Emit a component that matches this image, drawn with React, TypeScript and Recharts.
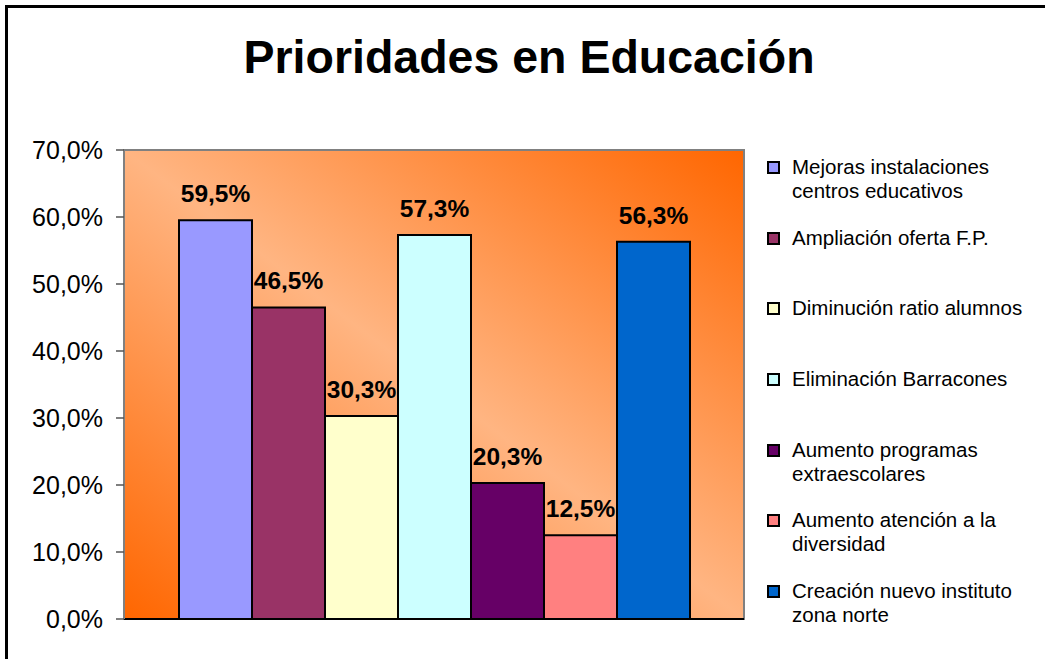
import { Bar, BarChart, CartesianGrid, LabelList, ReferenceArea, XAxis, YAxis } from 'recharts';

const categories = ['Prioridades'];

const seriesNames = [
  'Mejoras instalaciones\ncentros educativos',
  'Ampliación oferta F.P.',
  'Diminución ratio alumnos',
  'Eliminación Barracones',
  'Aumento programas\nextraescolares',
  'Aumento atención a la\ndiversidad',
  'Creación nuevo instituto\nzona norte',
];

const seriesValues = [0.595, 0.465, 0.303, 0.573, 0.203, 0.125, 0.563];

const seriesColors = ['#9999FF', '#993366', '#FFFFCC', '#CCFFFF', '#660066', '#FF8080', '#0066CC'];

const yTicks = [0, 0.1, 0.2, 0.3, 0.4, 0.5, 0.6, 0.7];

const chartTitle = 'Prioridades en Educación';

const font = 'Arial, "Liberation Sans", sans-serif';

const chartData = categories.map((name, ci) => {
  const row: Record<string, string | number> = { name };
  seriesValues.forEach((v, i) => {
    row[`s${i}`] = ci === 0 ? v : 0;
  });
  return row;
});

function formatPct(value: number | string): string {
  return (Number(value) * 100).toFixed(1).replace('.', ',') + '%';
}

function ChartLegend() {
  return (
    <div style={{ position: 'absolute', left: 767, top: 155, fontFamily: font, fontSize: 20.5 }}>
      {seriesNames.map((name, i) => (
        <div key={name} style={{ position: 'relative', height: 70.7 }}>
          <span
            style={{
              position: 'absolute',
              left: 0,
              top: 6,
              width: 9,
              height: 9,
              border: '2px solid #000',
              background: seriesColors[i],
            }}
          />
          <div style={{ position: 'absolute', left: 25, top: 0, lineHeight: '24px', whiteSpace: 'pre', color: '#000' }}>
            {name}
          </div>
        </div>
      ))}
    </div>
  );
}

export default function App() {
  return (
    <div style={{ position: 'absolute', left: 0, top: 0, width: 1045, height: 659, overflow: 'hidden', background: '#fff' }}>
      <div
        style={{
          position: 'absolute',
          left: 5,
          top: 5,
          width: 1100,
          height: 700,
          border: '3px solid #000',
          boxSizing: 'border-box',
        }}
      />
      <div
        style={{
          position: 'absolute',
          left: 0,
          width: 1058,
          top: 34,
          textAlign: 'center',
          fontFamily: font,
          fontWeight: 'bold',
          fontSize: 46.5,
          lineHeight: '46px',
          color: '#000',
        }}
      >
        {chartTitle}
      </div>
      <div style={{ position: 'absolute', left: 0, top: 0 }}>
        <BarChart
          width={1045}
          height={659}
          data={chartData}
          margin={{ top: 150, right: 301, bottom: 0, left: 0 }}
          barGap={0}
          barSize={73}
        >
          <defs>
            <linearGradient id="plotGrad" x1="0" y1="1" x2="1" y2="0">
              <stop offset="0" stopColor="#FF6600" />
              <stop offset="0.5" stopColor="#FFB582" />
              <stop offset="1" stopColor="#FF6600" />
            </linearGradient>
          </defs>
          <CartesianGrid horizontal={false} vertical={false} fill="url(#plotGrad)" />
          <ReferenceArea y1={0} y2={0.7} fill="none" stroke="#808080" strokeWidth={2} ifOverflow="visible" />
          <XAxis
            dataKey="name"
            height={40}
            tick={false}
            tickLine={false}
            axisLine={{ stroke: '#000', strokeWidth: 2 }}
          />
          <YAxis
            width={124}
            domain={[0, 0.7]}
            ticks={yTicks}
            interval={0}
            tickFormatter={formatPct}
            tickSize={8}
            tickMargin={13}
            tickLine={{ stroke: '#555', strokeWidth: 1.5 }}
            axisLine={{ stroke: '#808080', strokeWidth: 2 }}
            tick={{ fill: '#000', fontSize: 25, fontFamily: font }}
          />
          {seriesNames.map((name, i) => (
            <Bar
              key={name}
              dataKey={`s${i}`}
              name={name}
              fill={seriesColors[i]}
              stroke="#000"
              strokeWidth={2}
              isAnimationActive={false}
            >
              <LabelList
                dataKey={`s${i}`}
                position="top"
                offset={18}
                formatter={formatPct}
                fill="#000"
                fontSize={24.5}
                fontWeight="bold"
                fontFamily={font}
              />
            </Bar>
          ))}
        </BarChart>
      </div>
      <ChartLegend />
    </div>
  );
}
